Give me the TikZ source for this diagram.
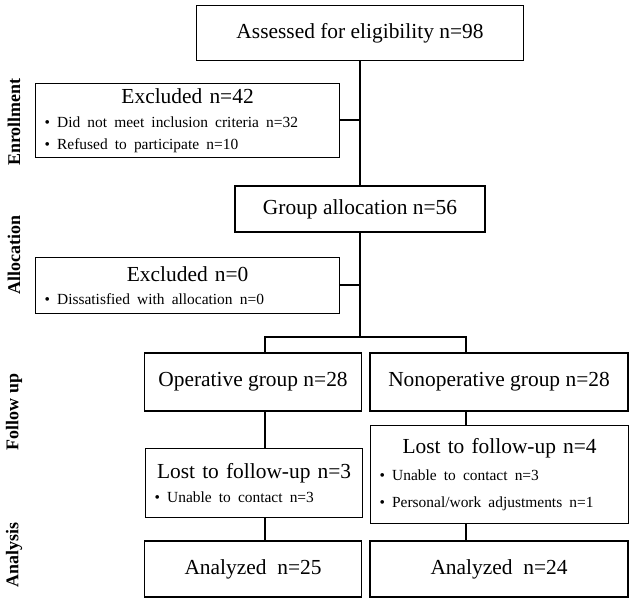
\documentclass[tikz,border=0pt]{standalone}
\usepackage{fontspec}
\setmainfont{Liberation Serif}
\begin{document}
\begin{tikzpicture}[x=1bp,y=-1bp,
  box/.style={draw,line width=1.2pt,inner sep=0pt,align=center,
    font=\fontsize{21.5}{25}\selectfont},
  listbox/.style={box,align=left,inner xsep=9bp,inner ysep=5bp,anchor=north west},
  phase/.style={rotate=90,font=\bfseries\fontsize{18}{20}\selectfont},
  line/.style={line width=1.2pt}]
 \useasboundingbox (0,0) rectangle (642,605);
 \newcommand{\itemline}[1]{{\fontsize{15.5}{22}\selectfont\textbullet\ #1}}
 % boxes
 \node[box,minimum width=327bp,minimum height=55bp] (assess) at (360,33) {Assessed for eligibility n=98};
 \node[listbox,minimum width=304bp,minimum height=74bp,text width=286bp] (excl1) at (35,83)
  {\makebox[286bp]{Excluded n=42}\\[-1pt]\itemline{Did not meet inclusion criteria n=32}\\[-3pt]\itemline{Refused to participate n=10}};
 \node[box,minimum width=250bp,minimum height=46bp] (alloc) at (360,209) {Group allocation n=56};
 \node[listbox,minimum width=304bp,minimum height=56bp,text width=286bp] (excl2) at (35,257)
  {\makebox[286bp]{Excluded n=0}\\[-1pt]\itemline{Dissatisfied with allocation n=0}};
 \node[box,minimum width=217bp,minimum height=58bp] (oper) at (253,382) {Operative group n=28};
 \node[box,minimum width=258bp,minimum height=58bp] (nonop) at (499,382) {Nonoperative group n=28};
 \node[listbox,minimum width=217bp,minimum height=69bp,text width=199bp] (lost1) at (145,448)
  {\makebox[199bp]{Lost to follow-up n=3}\\[-1pt]\itemline{Unable to contact n=3}};
 \node[listbox,minimum width=258bp,minimum height=98bp,text width=240bp] (lost2) at (370,425)
  {\makebox[240bp]{Lost to follow-up n=4}\\[2pt]\itemline{Unable to contact n=3}\\[2pt]\itemline{Personal/work adjustments n=1}};
 \node[box,minimum width=217bp,minimum height=56bp] (ana1) at (253,569) {Analyzed~ n=25};
 \node[box,minimum width=258bp,minimum height=56bp] (ana2) at (499,569) {Analyzed~ n=24};
 % phase labels
 \node[phase] (enrol) at (14,122) {Enrollment};
 \node[phase] (allocl) at (14,255) {Allocation};
 \node[phase] (follow) at (14,412) {Follow up};
 \node[phase] (analy) at (14,555) {Analysis};
 % connectors
 \draw[line] (assess) -- (alloc);
 \draw[line] (excl1.east |- 0,120) -- (360,120);
 \coordinate (split) at (360,337);
 \draw[line] (alloc) -- (split);
 \draw[line] (excl2.east |- 0,285) -- (360,285);
 \draw[line] (265,353) |- (split) -| (466,353);
 \draw[line] (265,411) -- (265,448);
 \draw[line] (265,517) -- (265,541);
 \draw[line] (466,411) -- (466,425);
 \draw[line] (466,523) -- (466,541);
\end{tikzpicture}
\end{document}
